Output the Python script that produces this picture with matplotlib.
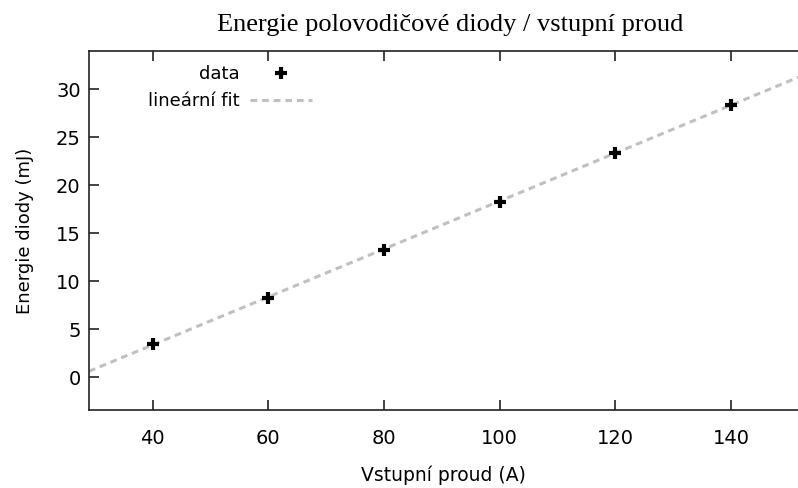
import numpy as np
import matplotlib
matplotlib.use("Agg")
import matplotlib.pyplot as plt

# data z mereni
proud = [40, 60, 80, 100, 120, 140]
energie = [3.5, 8.3, 13.3, 18.3, 23.4, 28.4]
x_ticks = [40, 60, 80, 100, 120, 140]
y_ticks = [0, 5, 10, 15, 20, 25, 30]

# linearni fit
k, q = np.polyfit(proud, energie, 1)
x_fit = np.array([29, 152])

plt.rcParams["font.family"] = ["DejaVu Sans"]
fig = plt.figure(figsize=(7.98, 4.88), dpi=100)
ax = fig.add_axes([89 / 798, 78 / 488, 1 - 89 / 798, (410 - 51) / 488])

ax.plot(x_fit, k * x_fit + q, color="#c0c0c0", lw=2.2, ls=(0, (2.2, 1.6)),
        label="lineární fit", zorder=2)
ax.plot(proud, energie, ls="none", marker="+", ms=9, mew=3, color="black",
        label="data", zorder=3)

ax.set_xlim(29, 151.6)
ax.set_ylim(-3.4, 34)
ax.set_xticks(x_ticks)
ax.set_yticks(y_ticks)

for s in ax.spines.values():
    s.set_color("#222222")
    s.set_linewidth(1.2)
ax.spines["right"].set_visible(False)

ax.tick_params(axis="both", direction="in", length=7, width=1.2, color="#222222",
               labelsize=14, top=True)
ax.tick_params(axis="x", pad=14)
ax.tick_params(axis="y", pad=6)

ax.set_xlabel("Vstupní proud (A)", fontsize=13.5, labelpad=12)
ax.set_ylabel("Energie diody (mJ)", fontsize=13, labelpad=16)
fig.text(0.564, 0.949, "Energie polovodičové diody / vstupní proud",
         family="Liberation Serif", fontsize=19, ha="center", va="center")

handles, labels = ax.get_legend_handles_labels()
ax.legend(handles[::-1], labels[::-1], loc="upper left", frameon=False,
          markerfirst=False, fontsize=13, handlelength=3.4, handletextpad=0.6,
          labelspacing=0.5, bbox_to_anchor=(0.06, 1.005))

fig.savefig("out.png", dpi=100)
